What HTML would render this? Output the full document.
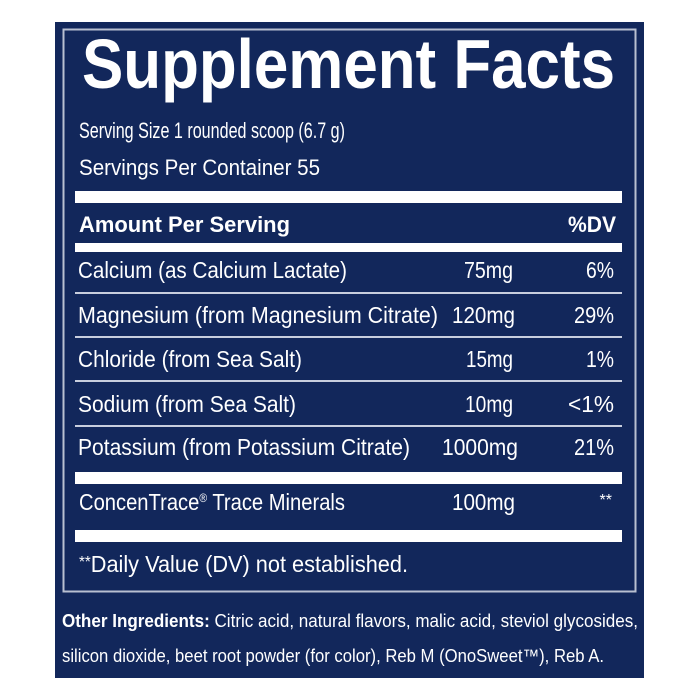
<!DOCTYPE html>
<html><head><meta charset="utf-8"><style>
html,body{margin:0;padding:0;background:#fff;}
svg{display:block}
text{font-family:"Liberation Sans",sans-serif;fill:#fff}
</style></head><body>
<svg width="700" height="700" viewBox="0 0 700 700" xmlns="http://www.w3.org/2000/svg">
<rect x="0" y="0" width="700" height="700" fill="#fff"/>
<rect x="55" y="22" width="589" height="656" fill="#12275b"/>
<rect x="63.5" y="29.5" width="572" height="562" fill="none" stroke="#b8bfd0" stroke-width="2"/>
<text x="82" y="88" font-size="70" font-weight="bold" textLength="533" lengthAdjust="spacingAndGlyphs">Supplement Facts</text>
<text x="79" y="138" font-size="22" textLength="266" lengthAdjust="spacingAndGlyphs">Serving Size 1 rounded scoop (6.7 g)</text>
<text x="79" y="175" font-size="22" textLength="241" lengthAdjust="spacingAndGlyphs">Servings Per Container 55</text>
<rect x="75" y="191" width="547" height="12" fill="#fff"/>
<text x="79" y="232" font-size="22" font-weight="bold" textLength="211" lengthAdjust="spacingAndGlyphs">Amount Per Serving</text>
<text x="568" y="232" font-size="22" font-weight="bold" textLength="48" lengthAdjust="spacingAndGlyphs">%DV</text>
<rect x="75" y="243" width="547" height="9" fill="#fff"/>
<g font-size="23">
<text x="78" y="278" textLength="269" lengthAdjust="spacingAndGlyphs">Calcium (as Calcium Lactate)</text>
<text x="464" y="278" textLength="49" lengthAdjust="spacingAndGlyphs">75mg</text>
<text x="586" y="278" textLength="28" lengthAdjust="spacingAndGlyphs">6%</text>
<rect x="75" y="292" width="547" height="2" fill="#c8cede"/>
<text x="78" y="323" textLength="360" lengthAdjust="spacingAndGlyphs">Magnesium (from Magnesium Citrate)</text>
<text x="452" y="323" textLength="63" lengthAdjust="spacingAndGlyphs">120mg</text>
<text x="574" y="323" textLength="40" lengthAdjust="spacingAndGlyphs">29%</text>
<rect x="75" y="336" width="547" height="2" fill="#c8cede"/>
<text x="78" y="367" textLength="224" lengthAdjust="spacingAndGlyphs">Chloride (from Sea Salt)</text>
<text x="466" y="367" textLength="47" lengthAdjust="spacingAndGlyphs">15mg</text>
<text x="586" y="367" textLength="28" lengthAdjust="spacingAndGlyphs">1%</text>
<rect x="75" y="380" width="547" height="2" fill="#c8cede"/>
<text x="78" y="412" textLength="218" lengthAdjust="spacingAndGlyphs">Sodium (from Sea Salt)</text>
<text x="465" y="412" textLength="48" lengthAdjust="spacingAndGlyphs">10mg</text>
<text x="568" y="412" textLength="46" lengthAdjust="spacingAndGlyphs">&lt;1%</text>
<rect x="75" y="425" width="547" height="2" fill="#c8cede"/>
<text x="78" y="455" textLength="332" lengthAdjust="spacingAndGlyphs">Potassium (from Potassium Citrate)</text>
<text x="442" y="455" textLength="76" lengthAdjust="spacingAndGlyphs">1000mg</text>
<text x="574" y="455" textLength="40" lengthAdjust="spacingAndGlyphs">21%</text>
<rect x="75" y="472" width="547" height="12" fill="#fff"/>
<text x="79" y="510" textLength="266" lengthAdjust="spacingAndGlyphs">ConcenTrace<tspan font-size="12" dy="-8">®</tspan><tspan dy="8"> Trace Minerals</tspan></text>
<text x="452" y="510" textLength="63" lengthAdjust="spacingAndGlyphs">100mg</text>
<text x="612" y="505" text-anchor="end" font-size="16">**</text>
<rect x="75" y="530" width="547" height="12" fill="#fff"/>
<text x="79" y="572" textLength="329" lengthAdjust="spacingAndGlyphs"><tspan font-size="16" dy="-5">**</tspan><tspan dy="5">Daily Value (DV) not established.</tspan></text>
</g>
<text x="62" y="627" font-size="18" textLength="576" lengthAdjust="spacingAndGlyphs"><tspan font-weight="bold">Other Ingredients:</tspan> Citric acid, natural flavors, malic acid, steviol glycosides,</text>
<text x="62" y="662" font-size="18" textLength="542" lengthAdjust="spacingAndGlyphs">silicon dioxide, beet root powder (for color), Reb M (OnoSweet™), Reb A.</text>
</svg>
</body></html>
